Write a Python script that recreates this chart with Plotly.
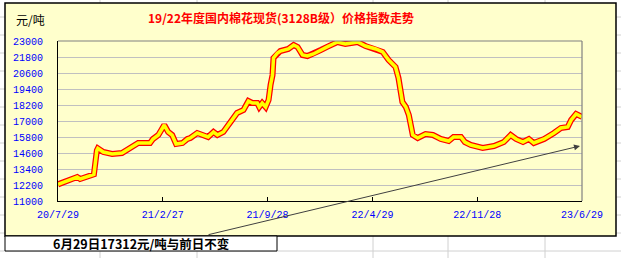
import plotly.graph_objects as go

# ---- data ----
dates = [
    "2020-07-29", "2020-08-18", "2020-09-06", "2020-09-12", "2020-09-22", "2020-10-10",
    "2020-10-16", "2020-10-18", "2020-10-29", "2020-11-16", "2020-12-06", "2020-12-23",
    "2021-01-08", "2021-02-01", "2021-02-07", "2021-02-18", "2021-03-02", "2021-03-10",
    "2021-03-18", "2021-03-26", "2021-04-08", "2021-04-18", "2021-04-24", "2021-05-08",
    "2021-05-18", "2021-05-30", "2021-06-10", "2021-06-18", "2021-06-30", "2021-07-14",
    "2021-07-28", "2021-08-10", "2021-08-20", "2021-08-28", "2021-09-07", "2021-09-11",
    "2021-09-17", "2021-09-24", "2021-09-30", "2021-10-04", "2021-10-08", "2021-10-10",
    "2021-10-18", "2021-10-24", "2021-11-09", "2021-11-20", "2021-11-28", "2021-12-08",
    "2021-12-18", "2021-12-30", "2022-01-14", "2022-01-28", "2022-02-17", "2022-03-05",
    "2022-03-30", "2022-04-15", "2022-05-06", "2022-05-20", "2022-06-01", "2022-06-15",
    "2022-06-21", "2022-06-25", "2022-06-29", "2022-07-06", "2022-07-12", "2022-07-16",
    "2022-07-20", "2022-07-30", "2022-08-15", "2022-08-30", "2022-09-15", "2022-10-01",
    "2022-10-11", "2022-10-26", "2022-11-03", "2022-11-15", "2022-12-09", "2023-01-01",
    "2023-01-21", "2023-02-04", "2023-02-15", "2023-03-01", "2023-03-13", "2023-03-23",
    "2023-04-13", "2023-05-03", "2023-05-17", "2023-05-31", "2023-06-07", "2023-06-17",
    "2023-06-29",
]
prices = [
    12250, 12500, 12800, 12650, 12800, 13000,
    14800, 14950, 14675, 14525, 14600, 14975,
    15350, 15350, 15650, 15950, 16700, 16175,
    15950, 15275, 15350, 15650, 15725, 16100,
    15950, 15800, 16175, 15950, 16175, 16850,
    17600, 17825, 18500, 18350, 18350, 18050,
    18350, 18050, 18575, 19700, 20450, 21725,
    22100, 22250, 22400, 22700, 22550, 21950,
    21875, 22025, 22325, 22575, 22925, 22775,
    22925, 22625, 22400, 22175, 21575, 21050,
    20225, 19100, 18425, 18050, 17450, 16700,
    15950, 15725, 16025, 15950, 15650, 15500,
    15800, 15800, 15425, 15200, 14975, 15125,
    15425, 15950, 15650, 15425, 15650, 15350,
    15650, 16100, 16475, 16550, 17075, 17525,
    17312,
]

tick_dates = ["2020-07-29", "2021-02-27", "2021-09-28", "2022-04-29", "2022-11-28", "2023-06-29"]
tick_labels = ["20/7/29", "21/2/27", "21/9/28", "22/4/29", "22/11/28", "23/6/29"]
y_ticks = [11000, 12200, 13400, 14600, 15800, 17000, 18200, 19400, 20600, 21800, 23000]
y_labels = [str(v) for v in y_ticks]

title_text = "19/22年度国内棉花现货(3128B级）价格指数走势"
unit_text = "元/吨"
note_text = "6月29日17312元/吨与前日不变"

# ---- layout geometry ----
W, H = 621, 258
L, R, T, B = 58, 582, 41, 201


def px(x):
    return (x - L) / (R - L)


def py(y):
    return (B - y) / (B - T)


fig = go.Figure()
fig.add_trace(go.Scatter(x=dates, y=prices, mode="lines",
                         line=dict(color="#FF0000", width=6), hoverinfo="skip"))
fig.add_trace(go.Scatter(x=dates, y=prices, mode="lines",
                         line=dict(color="#FFFF00", width=3.5), hoverinfo="skip"))

shapes = []
grid_col = "#D0D0D0"
# spreadsheet cell grid in background
for gx in [100, 197, 373, 448, 545]:
    shapes.append(dict(type="line", xref="paper", yref="paper", layer="below",
                       x0=px(gx), x1=px(gx), y0=py(0), y1=py(H),
                       line=dict(color=grid_col, width=1)))
for gy in range(-1, H + 1, 18):
    shapes.append(dict(type="line", xref="paper", yref="paper", layer="below",
                       x0=px(0), x1=px(W), y0=py(gy), y1=py(gy),
                       line=dict(color=grid_col, width=1)))
# chart area
shapes.append(dict(type="rect", xref="paper", yref="paper", layer="below",
                   x0=px(5), x1=px(616), y0=py(236), y1=py(3),
                   fillcolor="#FFFFCC", line=dict(color="#000000", width=1.5)))
# note box
shapes.append(dict(type="rect", xref="paper", yref="paper", layer="above",
                   x0=px(5), x1=px(277), y0=py(251), y1=py(236),
                   fillcolor="#FFFFFF", line=dict(color="#000000", width=1)))
# top and right plot borders (grey)
shapes.append(dict(type="line", xref="paper", yref="paper", layer="above",
                   x0=0, x1=1, y0=1, y1=1, line=dict(color="#808080", width=1.2)))
shapes.append(dict(type="line", xref="paper", yref="paper", layer="above",
                   x0=1, x1=1, y0=0, y1=1, line=dict(color="#808080", width=1.2)))

annotations = [
    dict(text=f"<b>{title_text}</b>", xref="paper", yref="paper", x=px(281), y=py(17),
         showarrow=False, font=dict(family="Noto Sans CJK SC", size=12, color="#FF0000"),
         xanchor="center", yanchor="middle"),
    dict(text=unit_text, xref="paper", yref="paper", x=px(14), y=py(20),
         showarrow=False, font=dict(family="Noto Sans CJK SC", size=12, color="#000000"),
         xanchor="left", yanchor="middle"),
    dict(text=f"<b>{note_text}</b>", xref="paper", yref="paper", x=px(141), y=py(243.5),
         showarrow=False, font=dict(family="Noto Sans CJK SC", size=12.5, color="#000000"),
         xanchor="center", yanchor="middle"),
    dict(text="", xref="paper", yref="paper", x=px(580), y=py(146),
         ax=207 - 580, ay=235 - 146, showarrow=True, arrowhead=2, arrowsize=1.2,
         arrowwidth=1, arrowcolor="#404040"),
]

fig.update_layout(
    width=W, height=H,
    margin=dict(l=L, r=W - R, t=T, b=H - B),
    paper_bgcolor="#FFFFFF",
    plot_bgcolor="rgba(0,0,0,0)",
    showlegend=False,
    shapes=shapes,
    annotations=annotations,
    xaxis=dict(type="date", range=[tick_dates[0], tick_dates[-1]],
               tickvals=tick_dates, ticktext=tick_labels,
               showgrid=False, showline=True, linecolor="#000000", linewidth=1.2,
               ticks="inside", ticklen=4, tickcolor="#000000", ticklabelstandoff=4,
               tickfont=dict(family="Liberation Mono", size=10, color="#0000FF"),
               zeroline=False, fixedrange=True),
    yaxis=dict(range=[11000, 23000], tickvals=y_ticks, ticktext=y_labels,
               showgrid=True, gridcolor="#C0C0C0", gridwidth=1,
               showline=True, linecolor="#000000", linewidth=1.2,
               ticks="", ticklabelstandoff=12,
               tickfont=dict(family="Liberation Mono", size=10, color="#0000FF"),
               zeroline=False, fixedrange=True),
)

fig.write_html("out.html")
